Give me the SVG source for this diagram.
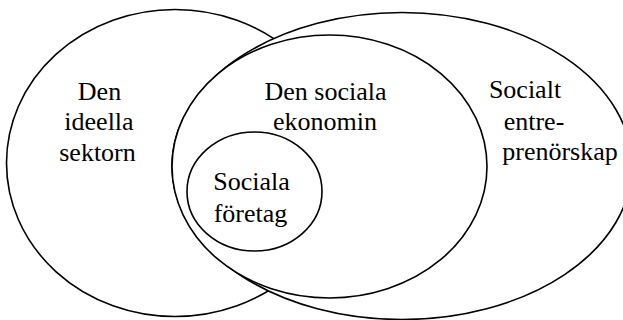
<svg xmlns="http://www.w3.org/2000/svg" width="623" height="320" viewBox="0 0 623 320">
<style>
.e{fill:#fff;stroke:#000;stroke-width:1.6}
.t{font-family:"Liberation Serif","Times New Roman",serif;font-size:26px;fill:#000}
.m{text-anchor:middle}
</style>
<rect width="623" height="320" fill="#fff"/>
<g id="ideella">
<ellipse class="e" cx="175" cy="163" rx="168.5" ry="153.5"/>
<text class="t m" x="99.5" y="99.5">Den</text>
<text class="t m" x="99" y="130">ideella</text>
<text class="t m" x="97.5" y="160.5">sektorn</text>
</g>
<g id="entreprenorskap">
<ellipse class="e" cx="402" cy="166" rx="230" ry="153.5"/>
<text class="t m" x="525" y="98">Socialt</text>
<text class="t m" x="534" y="130">entre-</text>
<text class="t m" x="560" y="160">prenörskap</text>
</g>
<g id="ekonomin">
<ellipse class="e" cx="329.5" cy="166.5" rx="157.5" ry="131.5"/>
<text class="t m" x="325.5" y="99.5">Den sociala</text>
<text class="t m" x="325" y="129.5">ekonomin</text>
</g>
<g id="foretag">
<ellipse class="e" cx="254.5" cy="191.5" rx="67.5" ry="59.5"/>
<text class="t m" x="251.5" y="189.5">Sociala</text>
<text class="t m" x="250.5" y="221.5">företag</text>
</g>
<g id="connectors"/>
</svg>
